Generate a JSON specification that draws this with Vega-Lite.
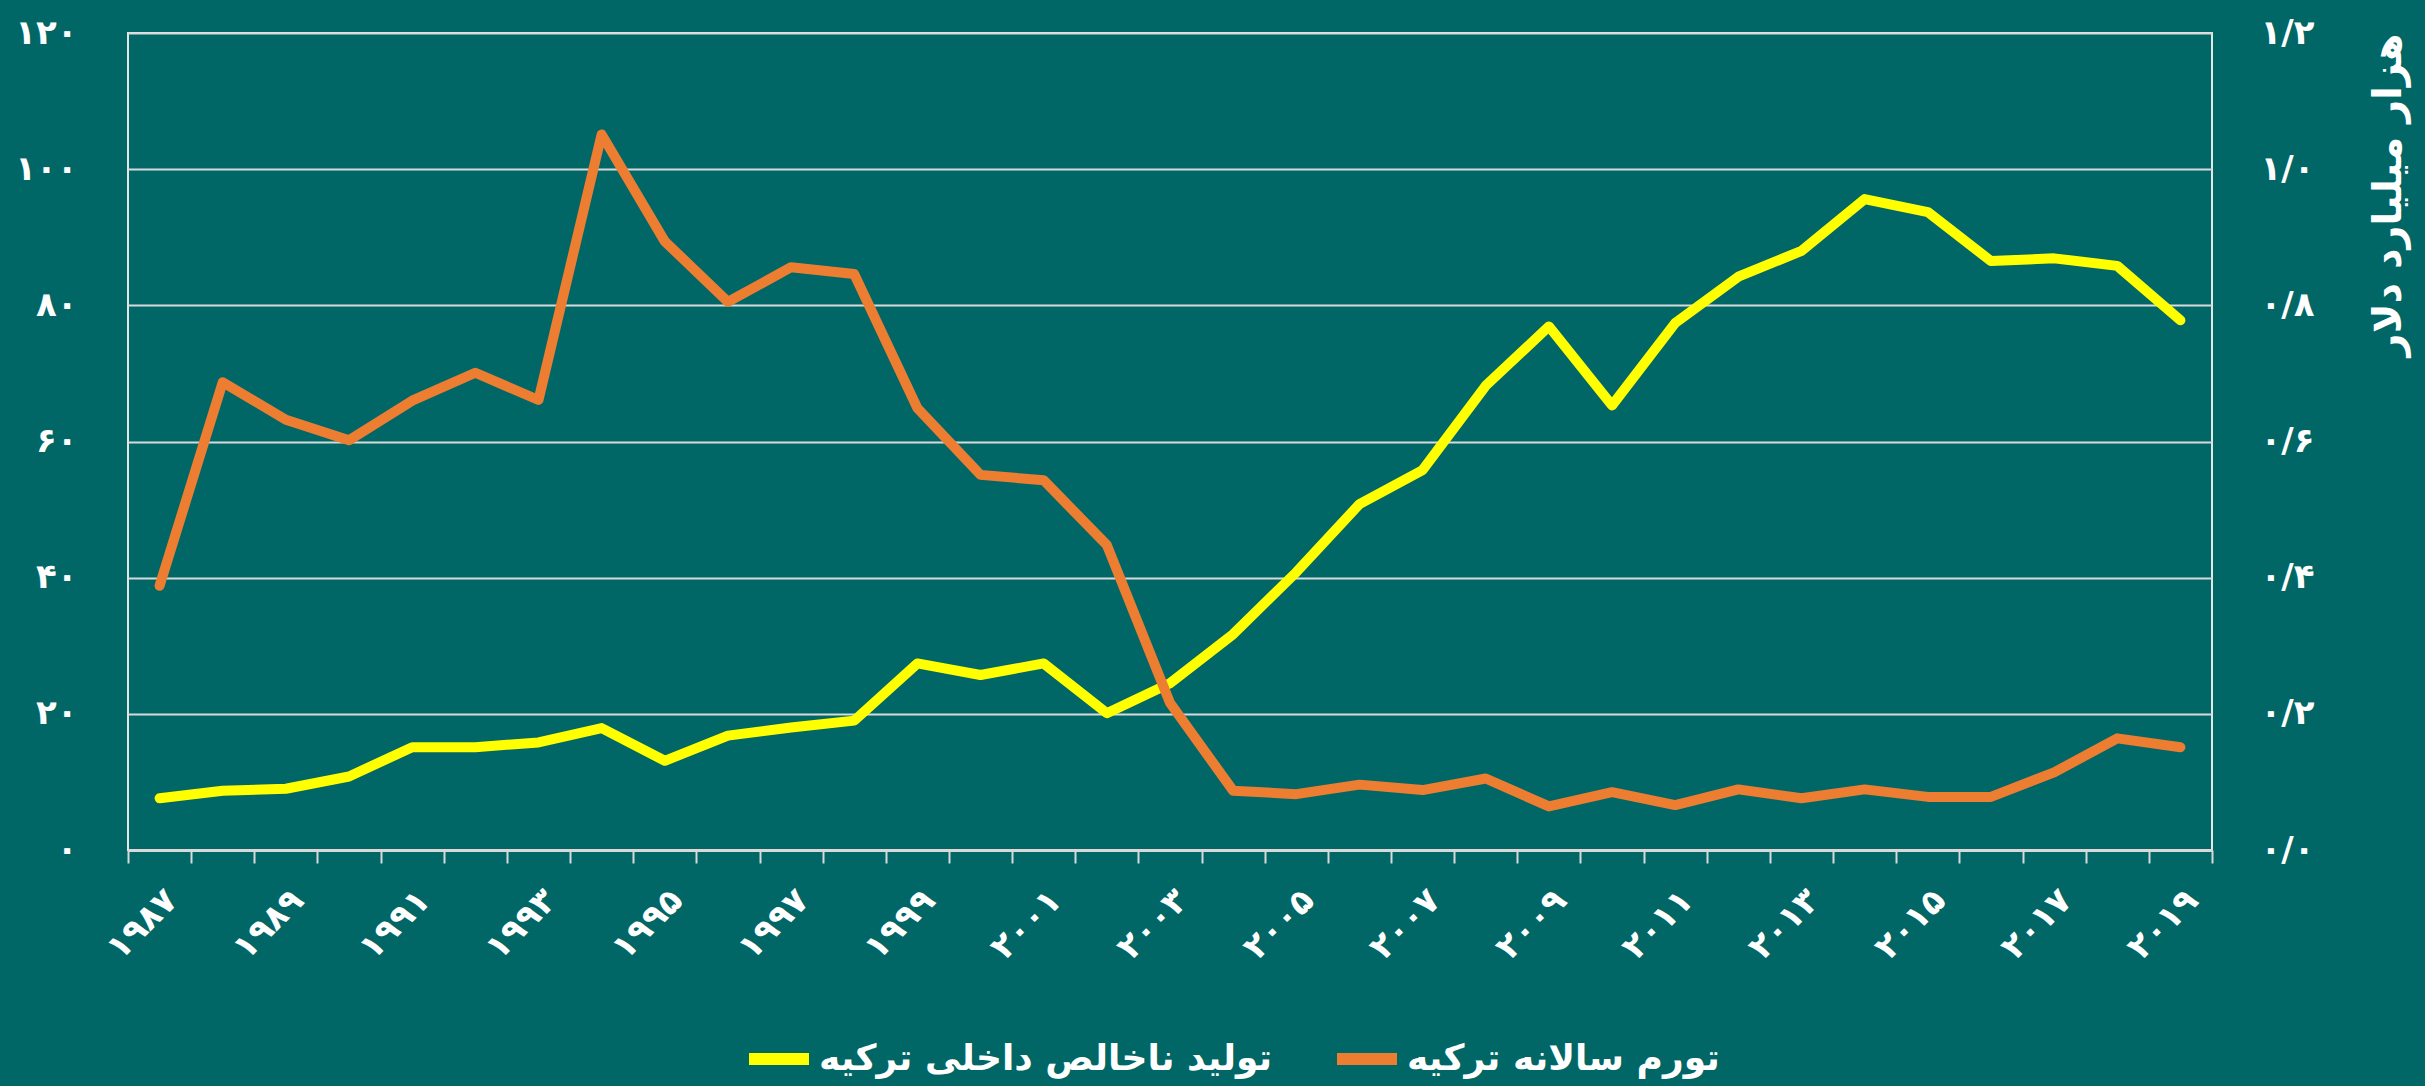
{
  "$schema": "https://vega.github.io/schema/vega-lite/v6.json",
  "autosize": {"type": "none"},
  "padding": {"left": 128, "top": 33, "right": 213, "bottom": 236},
  "width": 2084,
  "height": 817,
  "background": "#006666",
  "config": {
    "font": "DejaVu Sans",
    "view": {"stroke": "#E6E6E6", "strokeWidth": 2},
    "axis": {"labelColor": "#FFFFFF", "labelFont": "DejaVu Sans", "labelFontWeight": "bold", "titleColor": "#FFFFFF", "titleFont": "DejaVu Sans", "titleFontWeight": "bold"},
    "legend": {"labelFont": "DejaVu Sans"}
  },
  "data": {
    "values": [
      {"year": "۱۹۸۷", "series": "تورم سالانه ترکیه", "value": 38.8},
      {"year": "۱۹۸۸", "series": "تورم سالانه ترکیه", "value": 68.7},
      {"year": "۱۹۸۹", "series": "تورم سالانه ترکیه", "value": 63.2},
      {"year": "۱۹۹۰", "series": "تورم سالانه ترکیه", "value": 60.2},
      {"year": "۱۹۹۱", "series": "تورم سالانه ترکیه", "value": 66.0},
      {"year": "۱۹۹۲", "series": "تورم سالانه ترکیه", "value": 70.1},
      {"year": "۱۹۹۳", "series": "تورم سالانه ترکیه", "value": 66.1},
      {"year": "۱۹۹۴", "series": "تورم سالانه ترکیه", "value": 105.1},
      {"year": "۱۹۹۵", "series": "تورم سالانه ترکیه", "value": 89.4},
      {"year": "۱۹۹۶", "series": "تورم سالانه ترکیه", "value": 80.5},
      {"year": "۱۹۹۷", "series": "تورم سالانه ترکیه", "value": 85.6},
      {"year": "۱۹۹۸", "series": "تورم سالانه ترکیه", "value": 84.6},
      {"year": "۱۹۹۹", "series": "تورم سالانه ترکیه", "value": 64.9},
      {"year": "۲۰۰۰", "series": "تورم سالانه ترکیه", "value": 55.1},
      {"year": "۲۰۰۱", "series": "تورم سالانه ترکیه", "value": 54.3},
      {"year": "۲۰۰۲", "series": "تورم سالانه ترکیه", "value": 44.8},
      {"year": "۲۰۰۳", "series": "تورم سالانه ترکیه", "value": 21.6},
      {"year": "۲۰۰۴", "series": "تورم سالانه ترکیه", "value": 8.7},
      {"year": "۲۰۰۵", "series": "تورم سالانه ترکیه", "value": 8.2},
      {"year": "۲۰۰۶", "series": "تورم سالانه ترکیه", "value": 9.6},
      {"year": "۲۰۰۷", "series": "تورم سالانه ترکیه", "value": 8.8},
      {"year": "۲۰۰۸", "series": "تورم سالانه ترکیه", "value": 10.5},
      {"year": "۲۰۰۹", "series": "تورم سالانه ترکیه", "value": 6.4},
      {"year": "۲۰۱۰", "series": "تورم سالانه ترکیه", "value": 8.5},
      {"year": "۲۰۱۱", "series": "تورم سالانه ترکیه", "value": 6.6},
      {"year": "۲۰۱۲", "series": "تورم سالانه ترکیه", "value": 8.9},
      {"year": "۲۰۱۳", "series": "تورم سالانه ترکیه", "value": 7.6},
      {"year": "۲۰۱۴", "series": "تورم سالانه ترکیه", "value": 8.9},
      {"year": "۲۰۱۵", "series": "تورم سالانه ترکیه", "value": 7.8},
      {"year": "۲۰۱۶", "series": "تورم سالانه ترکیه", "value": 7.8},
      {"year": "۲۰۱۷", "series": "تورم سالانه ترکیه", "value": 11.4},
      {"year": "۲۰۱۸", "series": "تورم سالانه ترکیه", "value": 16.4},
      {"year": "۲۰۱۹", "series": "تورم سالانه ترکیه", "value": 15.1},
      {"year": "۱۹۸۷", "series": "تولید ناخالص داخلی ترکیه", "value": 0.076},
      {"year": "۱۹۸۸", "series": "تولید ناخالص داخلی ترکیه", "value": 0.087},
      {"year": "۱۹۸۹", "series": "تولید ناخالص داخلی ترکیه", "value": 0.090},
      {"year": "۱۹۹۰", "series": "تولید ناخالص داخلی ترکیه", "value": 0.108},
      {"year": "۱۹۹۱", "series": "تولید ناخالص داخلی ترکیه", "value": 0.151},
      {"year": "۱۹۹۲", "series": "تولید ناخالص داخلی ترکیه", "value": 0.151},
      {"year": "۱۹۹۳", "series": "تولید ناخالص داخلی ترکیه", "value": 0.158},
      {"year": "۱۹۹۴", "series": "تولید ناخالص داخلی ترکیه", "value": 0.179},
      {"year": "۱۹۹۵", "series": "تولید ناخالص داخلی ترکیه", "value": 0.131},
      {"year": "۱۹۹۶", "series": "تولید ناخالص داخلی ترکیه", "value": 0.168},
      {"year": "۱۹۹۷", "series": "تولید ناخالص داخلی ترکیه", "value": 0.180},
      {"year": "۱۹۹۸", "series": "تولید ناخالص داخلی ترکیه", "value": 0.190},
      {"year": "۱۹۹۹", "series": "تولید ناخالص داخلی ترکیه", "value": 0.274},
      {"year": "۲۰۰۰", "series": "تولید ناخالص داخلی ترکیه", "value": 0.257},
      {"year": "۲۰۰۱", "series": "تولید ناخالص داخلی ترکیه", "value": 0.274},
      {"year": "۲۰۰۲", "series": "تولید ناخالص داخلی ترکیه", "value": 0.201},
      {"year": "۲۰۰۳", "series": "تولید ناخالص داخلی ترکیه", "value": 0.245},
      {"year": "۲۰۰۴", "series": "تولید ناخالص داخلی ترکیه", "value": 0.317},
      {"year": "۲۰۰۵", "series": "تولید ناخالص داخلی ترکیه", "value": 0.408},
      {"year": "۲۰۰۶", "series": "تولید ناخالص داخلی ترکیه", "value": 0.508},
      {"year": "۲۰۰۷", "series": "تولید ناخالص داخلی ترکیه", "value": 0.558},
      {"year": "۲۰۰۸", "series": "تولید ناخالص داخلی ترکیه", "value": 0.682},
      {"year": "۲۰۰۹", "series": "تولید ناخالص داخلی ترکیه", "value": 0.769},
      {"year": "۲۰۱۰", "series": "تولید ناخالص داخلی ترکیه", "value": 0.653},
      {"year": "۲۰۱۱", "series": "تولید ناخالص داخلی ترکیه", "value": 0.774},
      {"year": "۲۰۱۲", "series": "تولید ناخالص داخلی ترکیه", "value": 0.842},
      {"year": "۲۰۱۳", "series": "تولید ناخالص داخلی ترکیه", "value": 0.880},
      {"year": "۲۰۱۴", "series": "تولید ناخالص داخلی ترکیه", "value": 0.956},
      {"year": "۲۰۱۵", "series": "تولید ناخالص داخلی ترکیه", "value": 0.937},
      {"year": "۲۰۱۶", "series": "تولید ناخالص داخلی ترکیه", "value": 0.865},
      {"year": "۲۰۱۷", "series": "تولید ناخالص داخلی ترکیه", "value": 0.869},
      {"year": "۲۰۱۸", "series": "تولید ناخالص داخلی ترکیه", "value": 0.858},
      {"year": "۲۰۱۹", "series": "تولید ناخالص داخلی ترکیه", "value": 0.778}
    ]
  },
  "encoding": {
    "x": {
      "field": "year",
      "type": "ordinal",
      "sort": "ascending",
      "scale": {"type": "band", "paddingInner": 0, "paddingOuter": 0},
      "axis": {
        "title": null,
        "labelAngle": -45,
        "labelAlign": "right",
        "labelBaseline": "top",
        "labelFontSize": 34,
        "labelPadding": 20,
        "labelOverlap": false,
        "labelExpr": "test(regexp('[۱۳۵۷۹]$'), '' + datum.label) ? datum.label : ''",
        "tickBand": "extent",
        "ticks": true,
        "tickSize": 13,
        "tickColor": "#D9D9D9",
        "tickWidth": 2,
        "domainColor": "#D9D9D9",
        "domainWidth": 3,
        "grid": false
      }
    },
    "color": {
      "field": "series",
      "type": "nominal",
      "scale": {"domain": ["تولید ناخالص داخلی ترکیه", "تورم سالانه ترکیه"], "range": ["#FFFF00", "#ED7D31"]},
      "legend": {
        "title": null,
        "orient": "none",
        "legendX": 615,
        "legendY": 990,
        "direction": "horizontal",
        "symbolType": "stroke",
        "symbolSize": 3600,
        "symbolStrokeWidth": 12,
        "labelFontSize": 36,
        "labelFontWeight": "bold",
        "labelColor": "#FFFFFF",
        "labelOffset": 4,
        "columnPadding": 40,
        "padding": 0,
        "labelLimit": 1000
      }
    }
  },
  "layer": [
    {
      "transform": [{"filter": "datum.series == 'تولید ناخالص داخلی ترکیه'"}],
      "mark": {"type": "line", "strokeWidth": 10, "strokeCap": "round", "strokeJoin": "round"},
      "encoding": {
        "y": {
          "field": "value",
          "type": "quantitative",
          "scale": {"domain": [0, 1.2], "nice": false, "zero": true},
          "axis": {
            "orient": "right",
            "title": "هزار میلیارد دلار",
            "titleFontSize": 40,
            "titleAngle": -90,
            "titleAnchor": "end",
            "titlePadding": 95,
            "values": [0, 0.2, 0.4, 0.6, 0.8, 1.0, 1.2],
            "labelExpr": "['۰/۰','۰/۲','۰/۴','۰/۶','۰/۸','۱/۰','۱/۲'][round(datum.value*5)]",
            "labelFontSize": 34,
            "labelPadding": 48,
            "labelAlign": "left",
            "labelBaseline": "middle",
            "ticks": false,
            "domain": false,
            "grid": false
          }
        }
      }
    },
    {
      "transform": [{"filter": "datum.series == 'تورم سالانه ترکیه'"}],
      "mark": {"type": "line", "strokeWidth": 10, "strokeCap": "round", "strokeJoin": "round"},
      "encoding": {
        "y": {
          "field": "value",
          "type": "quantitative",
          "scale": {"domain": [0, 120], "nice": false},
          "axis": {
            "orient": "left",
            "title": null,
            "values": [0, 20, 40, 60, 80, 100, 120],
            "labelExpr": "['۰','۲۰','۴۰','۶۰','۸۰','۱۰۰','۱۲۰'][round(datum.value/20)]",
            "labelFontSize": 34,
            "labelPadding": 51,
            "labelAlign": "right",
            "labelBaseline": "middle",
            "ticks": false,
            "domain": false,
            "grid": true,
            "gridColor": "#D9D9D9",
            "gridWidth": 2,
            "gridOpacity": 1
          }
        }
      }
    }
  ],
  "resolve": {"scale": {"y": "independent"}}
}
